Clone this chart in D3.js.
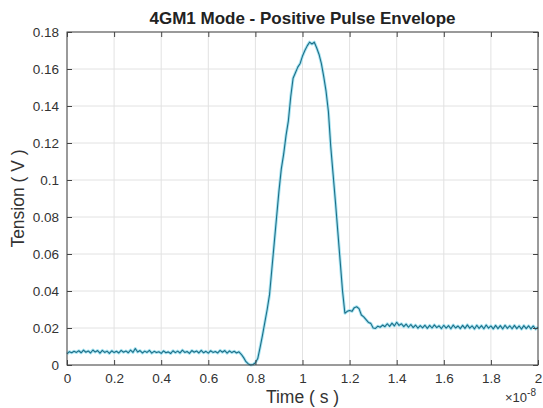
<!DOCTYPE html>
<html><head><meta charset="utf-8">
<script src="https://cdn.jsdelivr.net/npm/d3@7"></script>
<style>body{margin:0;background:#fff}svg{display:block}text{font-family:"Liberation Sans",Arial,sans-serif}</style>
</head><body><svg id="c" width="543" height="408"></svg>
<script>
const titleText = "4GM1 Mode - Positive Pulse Envelope";
const xLabel = "Time ( s )";
const yLabel = "Tension ( V )";
const xTicks = [0,0.2,0.4,0.6,0.8,1,1.2,1.4,1.6,1.8,2];
const yTicks = [0,0.02,0.04,0.06,0.08,0.1,0.12,0.14,0.16,0.18];
const sampleStep = 0.01; // in units of 1e-8 s
const baseline = [
0.0060,0.0072,0.0066,0.0074,0.0068,0.0077,0.0066,0.0080,0.0069,0.0076,
0.0065,0.0081,0.0070,0.0078,0.0064,0.0079,0.0068,0.0075,0.0063,0.0077,
0.0067,0.0074,0.0065,0.0079,0.0069,0.0076,0.0066,0.0081,0.0068,0.0089,
0.0070,0.0078,0.0065,0.0075,0.0068,0.0079,0.0064,0.0074,0.0067,0.0072,
0.0063,0.0076,0.0066,0.0071,0.0062,0.0077,0.0067,0.0075,0.0065,0.0080,
0.0068,0.0073,0.0063,0.0078,0.0069,0.0076,0.0065,0.0079,0.0066,0.0074,
0.0064,0.0077,0.0068,0.0073,0.0065,0.0079,0.0069,0.0078,0.0064,0.0076,
0.0067,0.0074,0.0065,0.0071];
const pulse = [
0.0058,0.0040,0.0018,0.0006,0.0000,0.0003,0.0012,
0.0035,0.0095,0.016,0.023,0.030,0.038,0.052,0.066,0.080,0.094,
0.106,0.114,0.124,0.132,0.145,0.155,0.158,0.161,0.163,0.167,
0.170,0.1725,0.1745,0.1735,0.1745,0.1715,0.168,0.163,0.156,0.148,
0.137,0.118,0.103,0.088,0.072,0.056,0.040,0.028,0.029,0.0295,
0.0290,0.031,0.0315,0.0305,0.027,0.026,0.0245,0.023,0.0225,0.020];
const tail = [
0.0198,0.0210,0.0204,0.0216,0.0207,0.0223,0.0209,0.0226,0.0211,0.0231,
0.0214,0.0223,0.0207,0.0221,0.0204,0.0219,0.0202,0.0216,0.0199,0.0213,
0.0201,0.0215,0.0198,0.0214,0.0200,0.0217,0.0202,0.0212,0.0197,0.0215,
0.0199,0.0213,0.0196,0.0216,0.0200,0.0211,0.0197,0.0214,0.0198,0.0217,
0.0199,0.0212,0.0195,0.0215,0.0198,0.0213,0.0196,0.0216,0.0199,0.0211,
0.0195,0.0214,0.0197,0.0213,0.0195,0.0215,0.0198,0.0212,0.0196,0.0214,
0.0197,0.0211,0.0194,0.0213,0.0197,0.0212,0.0195,0.0211,0.0194,0.0205];
const values = baseline.concat(pulse, tail);
const data = values.map((v,i)=>({t:i*sampleStep, v}));

const svg = d3.select("#c");
const L=67, R=538, T=32, B=365;
const x = d3.scaleLinear().domain([0,2]).range([L,R]);
const y = d3.scaleLinear().domain([0,0.18]).range([B,T]);

// grid
const g = svg.append("g");
g.selectAll(".gx").data(xTicks).join("line")
 .attr("x1",d=>x(d)).attr("x2",d=>x(d)).attr("y1",T).attr("y2",B)
 .attr("stroke","#e2e2e2").attr("stroke-width",1);
g.selectAll(".gy").data(yTicks).join("line")
 .attr("y1",d=>y(d)).attr("y2",d=>y(d)).attr("x1",L).attr("x2",R)
 .attr("stroke","#e2e2e2").attr("stroke-width",1);

// line
const line = d3.line().x(d=>x(d.t)).y(d=>y(d.v));
svg.append("path").datum(data).attr("d",line).attr("fill","none")
 .attr("stroke","#a8e4f2").attr("stroke-width",3).attr("stroke-linejoin","round");
svg.append("path").datum(data).attr("d",line).attr("fill","none")
 .attr("stroke","#1d6f88").attr("stroke-width",1.1).attr("stroke-linejoin","round");

// axes
const tickFmt = d=>d3.format("~g")(d);
const ax = d3.axisBottom(x).tickValues(xTicks).tickSize(-5).tickPadding(8).tickFormat(tickFmt);
const ay = d3.axisLeft(y).tickValues(yTicks).tickSize(-5).tickPadding(8).tickFormat(tickFmt);
const axT = d3.axisTop(x).tickValues(xTicks).tickSize(-5).tickFormat("");
const ayR = d3.axisRight(y).tickValues(yTicks).tickSize(-5).tickFormat("");
function style(sel){
  sel.selectAll("path").attr("stroke","#444").attr("stroke-width",1);
  sel.selectAll("line").attr("stroke","#444");
  sel.selectAll("text").attr("fill","#333").attr("font-size",13.5);
}
svg.append("g").attr("transform",`translate(0,${B})`).call(ax).call(style);
svg.append("g").attr("transform",`translate(${L},0)`).call(ay).call(style);
svg.append("g").attr("transform",`translate(0,${T})`).call(axT).call(style);
svg.append("g").attr("transform",`translate(${R},0)`).call(ayR).call(style);
svg.selectAll(".domain").attr("d",null);
svg.append("rect").attr("x",L).attr("y",T).attr("width",R-L).attr("height",B-T)
 .attr("fill","none").attr("stroke","#444").attr("stroke-width",1);

// labels
svg.append("text").attr("x",(L+R)/2).attr("y",24).attr("text-anchor","middle")
 .attr("font-weight","bold").attr("font-size",17).attr("fill","#222").text(titleText);
svg.append("text").attr("x",(L+R)/2).attr("y",403).attr("text-anchor","middle")
 .attr("font-size",17.5).attr("fill","#333").text(xLabel);
svg.append("text").attr("transform",`translate(24,${(T+B)/2}) rotate(-90)`).attr("text-anchor","middle")
 .attr("font-size",17.5).attr("fill","#333").text(yLabel);
const ex = svg.append("text").attr("x",536).attr("y",402).attr("text-anchor","end")
 .attr("font-size",13).attr("fill","#333");
ex.append("tspan").text("\u00d710");
ex.append("tspan").attr("dy",-6).attr("font-size",10).text("-8");
</script></body></html>
